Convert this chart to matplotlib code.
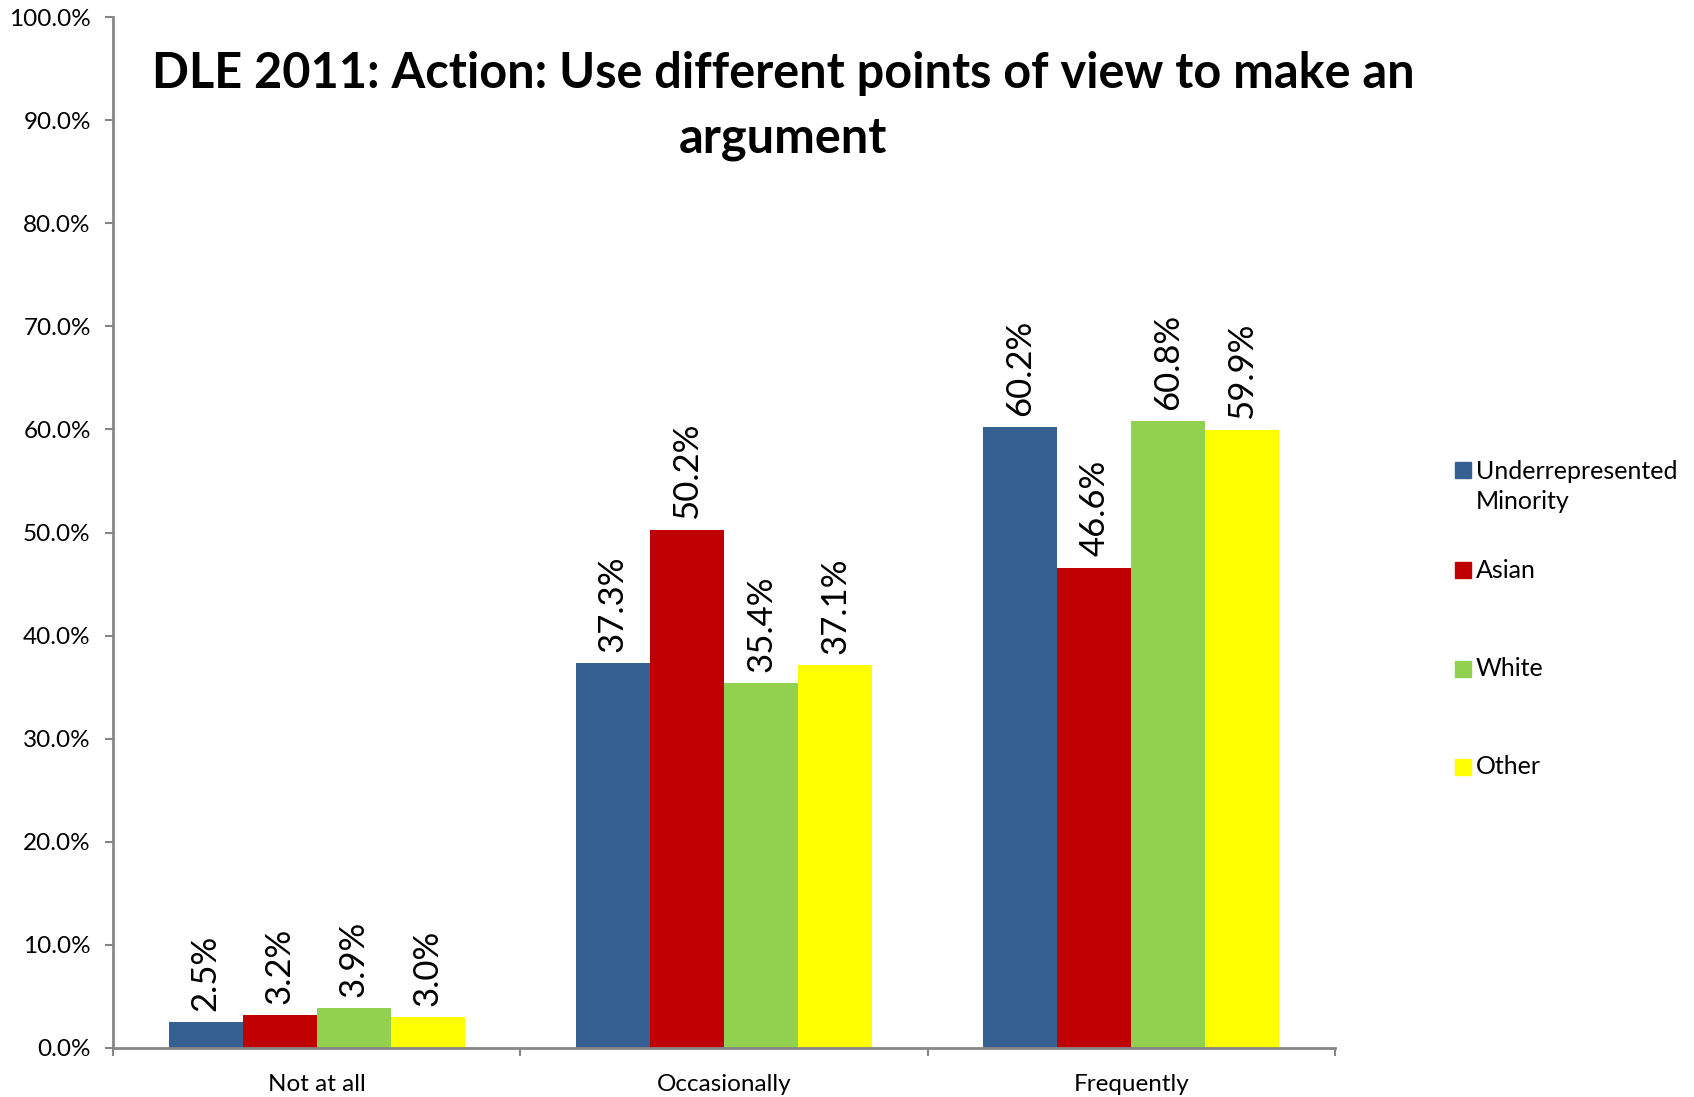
import matplotlib.pyplot as plt
from matplotlib.patches import Rectangle
import numpy as np

plt.rcParams['font.family'] = ['Lato', 'DejaVu Sans']

categories = ['Not at all', 'Occasionally', 'Frequently']
series = ['Underrepresented\nMinority', 'Asian', 'White', 'Other']
urm = [2.5, 37.3, 60.2]
asian = [3.2, 50.2, 46.6]
white = [3.9, 35.4, 60.8]
other = [3.0, 37.1, 59.9]
colors = ['#366092', '#C00000', '#92D050', '#FFFF00']

W, H = 1694, 1097
fig = plt.figure(figsize=(W / 100, H / 100), dpi=100)
ax = fig.add_axes([113 / W, 1 - 1048 / H, (1335 - 113) / W, (1048 - 17) / H])

x = np.arange(len(categories))
bw = 1 / 5.5
for i, vals in enumerate([urm, asian, white, other]):
    pos = x + (i - 1.5) * bw
    ax.bar(pos, vals, width=bw, color=colors[i], zorder=2)
    for px, v in zip(pos, vals):
        ax.annotate(f'{v:.1f}%', (px, v), xytext=(0, 8), textcoords='offset points',
                    rotation=90, ha='center', va='bottom', fontsize=25)

ax.set_xlim(-0.5, 2.5)
ax.set_ylim(0, 100)
ax.set_yticks(np.arange(0, 101, 10))
ax.set_yticklabels([f'{t:.1f}%' for t in np.arange(0, 101, 10)], fontsize=17.5)
ax.set_xticks(x)
ax.set_xticklabels(categories, fontsize=17.5)
ax.set_xticks([-0.5, 0.5, 1.5, 2.5], minor=True)
ax.tick_params(axis='x', which='major', length=0, pad=19)
ax.tick_params(axis='x', which='minor', length=6, width=1.5, color='#868686', direction='out')
ax.tick_params(axis='y', length=6, width=1.5, color='#868686', direction='out', pad=10)
for s in ['top', 'right']:
    ax.spines[s].set_visible(False)
for s in ['left', 'bottom']:
    ax.spines[s].set_color('#868686')
    ax.spines[s].set_linewidth(2)

fig.text(783 / W, 1 - 106 / H,
         'DLE 2011: Action: Use different points of view to make an\nargument',
         ha='center', va='center', fontsize=35, fontweight='bold', linespacing=1.55)

# legend
ys = [470, 570, 669, 767]
for name, c, yy in zip(series, colors, ys):
    n = name.count('\n')
    fig.add_artist(Rectangle((1455 / W, 1 - (yy + 8) / H), 16 / W, 16 / H,
                             transform=fig.transFigure, color=c))
    fig.text(1476 / W, 1 - (yy + n * 33 / 2) / H, name, ha='left', va='center',
             fontsize=18, linespacing=1.35)

fig.savefig('out.png', dpi=100)
